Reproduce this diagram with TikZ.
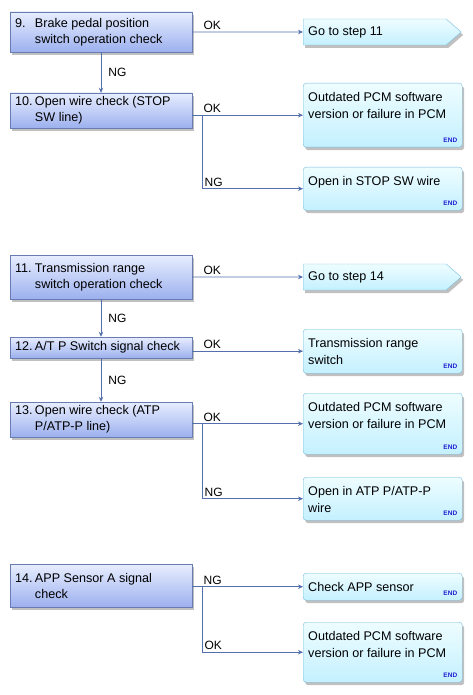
\documentclass[tikz,border=0pt]{standalone}
\usepackage{fontspec}
\setmainfont{Liberation Sans}
\usetikzlibrary{shadows,shapes.symbols,arrows.meta}

\definecolor{stepTop}{RGB}{232,238,255}
\definecolor{stepBot}{RGB}{156,176,238}
\definecolor{stepLine}{RGB}{104,124,178}
\definecolor{endTop}{RGB}{238,253,255}
\definecolor{endBot}{RGB}{196,240,255}
\definecolor{endLine}{RGB}{120,190,222}
\definecolor{flowLine}{RGB}{84,112,172}
\definecolor{endBlue}{RGB}{30,30,210}

\newcommand{\stepnum}[2]{\makebox[20pt][l]{#1}\parbox[t]{152pt}{#2}}
\newcommand{\restext}[2]{\parbox[c][#1][t]{149pt}{\rule{0pt}{18.5pt}#2}}

\tikzset{
  stepbox/.style={draw=stepLine, top color=stepTop, bottom color=stepBot,
    minimum width=182pt, inner xsep=0pt, inner ysep=2pt,
    font=\fontsize{12.6}{16}\selectfont,
    drop shadow={shadow xshift=2pt, shadow yshift=-3pt, fill=black!45, opacity=0.55}},
  endbox/.style={draw=endLine, top color=endTop, bottom color=endBot, rounded corners=3pt,
    minimum width=159pt, inner sep=0pt, anchor=north west,
    font=\fontsize{12.6}{17}\selectfont,
    drop shadow={shadow xshift=2pt, shadow yshift=-3pt, fill=black!45, opacity=0.55}},
  gobox/.style={signal, signal to=east, signal pointer angle=82, draw=endLine,
    top color=endTop, bottom color=endBot, minimum height=26pt,
    inner xsep=5pt, inner ysep=0pt, anchor=west,
    font=\fontsize{12.6}{16}\selectfont,
    drop shadow={shadow xshift=2pt, shadow yshift=-3pt, fill=black!45, opacity=0.55}},
  endtag/.style={text=endBlue, font=\fontsize{6.5}{7}\bfseries, inner sep=0pt, anchor=south east},
  flow/.style={draw=flowLine, line width=0.8pt, -{Stealth[length=5pt,width=4.5pt]}},
  oklbl/.style={pos=0, anchor=south west, xshift=10pt, yshift=1pt, inner sep=1pt,
    font=\fontsize{12}{14}\selectfont},
  nglbl/.style={midway, anchor=west, xshift=6pt, inner sep=1pt,
    font=\fontsize{12}{14}\selectfont},
  brlbl/.style={pos=0.5, anchor=south west, xshift=1pt, yshift=1pt, inner sep=1pt,
    font=\fontsize{12}{14}\selectfont}
}

\begin{document}
\begin{tikzpicture}[x=1pt, y=-1pt]
    \useasboundingbox (0,0) rectangle (473,695);
    % steps 9 and 10
    \node[stepbox, minimum height=40pt] (s9) at (101,32) {\stepnum{9.}{Brake pedal position\\switch operation check}};
    \node[stepbox, minimum height=35pt] (s10) at (101,110.5) {\stepnum{10.}{Open wire check (STOP\\SW line)}};
    \node[gobox] (r1) at (303,32) {\makebox[133pt][l]{Go to step 11}};
    \node[endbox, minimum height=64pt] (r2) at (303,83) {\restext{64pt}{Outdated PCM software\\version or failure in PCM}};
    \node[endbox, minimum height=43pt] (r3) at (303,167) {\restext{43pt}{Open in STOP SW wire}};
    \node[endtag] (e2) at ([xshift=-5pt,yshift=5pt]r2.south east) {END};
    \node[endtag] (e3) at ([xshift=-5pt,yshift=5pt]r3.south east) {END};
    \draw[flow] (s9) -- node[nglbl] (ng9) {NG} (s10);
    \draw[flow] (s9) -- node[oklbl] (ok9) {OK} (r1);
    \draw[flow] (s10.east |- r2.west) -- node[oklbl] (ok10) {OK} (r2.west);
    \path (s10.east |- r2.west) ++(10,0) coordinate (j10);
    \draw[flow] (j10) |- node[brlbl] (ng10) {NG} (r3.west);
    %
    % steps 11 to 13
    \node[stepbox, minimum height=44pt] (s11) at (101,277) {\stepnum{11.}{Transmission range\\switch operation check}};
    \node[stepbox, minimum height=21pt] (s12) at (101,347.5) {\stepnum{12.}{A/T P Switch signal check}};
    \node[stepbox, minimum height=35pt] (s13) at (101,419.5) {\stepnum{13.}{Open wire check (ATP\\P/ATP-P line)}};
    \node[gobox] (r4) at (303,277) {\makebox[133pt][l]{Go to step 14}};
    \node[endbox, minimum height=44pt] (r5) at (303,329) {\restext{44pt}{Transmission range\\switch}};
    \node[endbox, minimum height=61pt] (r6) at (303,393) {\restext{61pt}{Outdated PCM software\\version or failure in PCM}};
    \node[endbox, minimum height=43pt] (r7) at (303,477) {\restext{43pt}{Open in ATP P/ATP-P\\wire}};
    \node[endtag] (e5) at ([xshift=-5pt,yshift=5pt]r5.south east) {END};
    \node[endtag] (e6) at ([xshift=-5pt,yshift=5pt]r6.south east) {END};
    \node[endtag] (e7) at ([xshift=-5pt,yshift=5pt]r7.south east) {END};
    \draw[flow] (s11) -- node[oklbl] (ok11) {OK} (r4);
    \draw[flow] (s11) -- node[nglbl] (ng11) {NG} (s12);
    \draw[flow] (s12.east |- r5.west) -- node[oklbl] (ok12) {OK} (r5.west);
    \draw[flow] (s12) -- node[nglbl] (ng12) {NG} (s13);
    \draw[flow] (s13.east |- r6.west) -- node[oklbl] (ok13) {OK} (r6.west);
    \path (s13.east |- r6.west) ++(10,0) coordinate (j13);
    \draw[flow] (j13) |- node[brlbl] (ng13) {NG} (r7.west);
    %
    % step 14
    \node[stepbox, minimum height=43pt] (s14) at (101,585.5) {\stepnum{14.}{APP Sensor A signal\\check}};
    \node[endbox, minimum height=27pt] (r8) at (303,573) {\restext{27pt}{Check APP sensor}};
    \node[endbox, minimum height=60pt] (r9) at (303,622) {\restext{60pt}{Outdated PCM software\\version or failure in PCM}};
    \node[endtag] (e8) at ([xshift=-5pt,yshift=5pt]r8.south east) {END};
    \node[endtag] (e9) at ([xshift=-5pt,yshift=5pt]r9.south east) {END};
    \draw[flow] (s14.east |- r8.west) -- node[oklbl] (ng14) {NG} (r8.west);
    \path (s14.east |- r8.west) ++(10,0) coordinate (j14);
    \draw[flow] (j14) |- node[brlbl] (ok14) {OK} (r9.west);
\end{tikzpicture}
\end{document}
